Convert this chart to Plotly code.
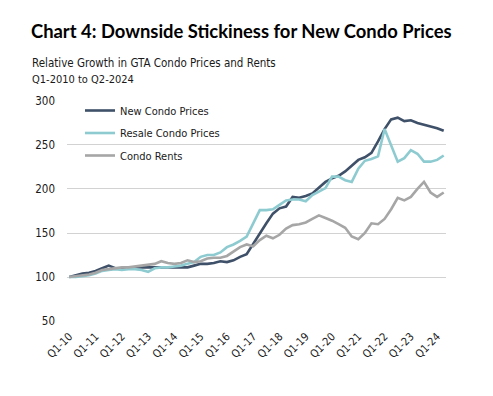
import plotly.graph_objects as go

quarters_idx = list(range(58))
tick_vals = list(range(0, 58, 4))
tick_text = ["Q1-10", "Q1-11", "Q1-12", "Q1-13", "Q1-14", "Q1-15", "Q1-16", "Q1-17",
             "Q1-18", "Q1-19", "Q1-20", "Q1-21", "Q1-22", "Q1-23", "Q1-24"]

new_condo = [100, 102, 104, 105, 107, 110, 113, 110, 110, 110,
             111, 111, 111, 111, 111, 111, 111, 111, 111, 113,
             115, 115, 116, 118, 117, 119, 123, 126, 138, 150,
             161, 172, 178, 180, 191, 190, 192, 195, 201, 208,
             212, 215, 220, 227, 233, 236, 241, 254, 268, 279,
             281, 277, 278, 275, 273, 271, 269, 266]

resale_condo = [100, 100, 101, 102, 104, 107, 108, 109, 108, 109,
                109, 108, 106, 110, 111, 111, 112, 113, 115, 117,
                123, 125, 125, 128, 134, 137, 141, 146, 161, 176,
                176, 177, 182, 187, 188, 188, 186, 193, 197, 201,
                214, 214, 210, 208, 223, 232, 234, 237, 268, 250,
                231, 235, 244, 240, 231, 231, 233, 238]

condo_rents = [100, 101, 102, 103, 105, 108, 109, 110, 111, 111,
               112, 113, 114, 115, 118, 116, 115, 116, 119, 117,
               118, 121, 122, 122, 124, 129, 134, 137, 135, 142,
               147, 144, 148, 155, 159, 160, 162, 166, 170, 167,
               164, 160, 156, 146, 143, 150, 161, 160, 166, 177,
               190, 187, 191, 200, 208, 196, 191, 196]

NARROW = "DejaVu Sans Condensed, Liberation Sans Narrow, sans-serif"

fig = go.Figure()
series = [
    ("New Condo Prices", new_condo, "#3f5069"),
    ("Resale Condo Prices", resale_condo, "#8dcbd1"),
    ("Condo Rents", condo_rents, "#a6a6a6"),
]
for i, (name, vals, col) in enumerate(series):
    fig.add_trace(go.Scatter(x=quarters_idx, y=vals, mode="lines", name=name,
                             legendgroup=str(i),
                             line=dict(color=col, width=2.6)))

L, R, T, B = 67, 47, 100, 74
W, H = 493, 396
pw = W - L - R
ph = H - T - B

def px_x(x):
    return (x - L) / pw

def px_y(y):
    return 1 - (y - T) / ph

fig.update_layout(
    width=W, height=H,
    margin=dict(l=L, r=R, t=T, b=B, autoexpand=False),
    paper_bgcolor="white", plot_bgcolor="white",
    font=dict(family=NARROW, size=11.5, color="#1a1a1a"),
    showlegend=True,
    legend=dict(x=px_x(80), y=px_y(96), xanchor="left", yanchor="top",
                bgcolor="rgba(0,0,0,0)", font=dict(family=NARROW, size=11),
                tracegroupgap=3.5),
    xaxis=dict(range=[-0.35, 57.35], tickmode="array", tickvals=tick_vals,
               ticktext=tick_text, tickangle=-45, showgrid=False,
               zeroline=False, showline=False, ticks="", automargin=False,
               ticklabelstandoff=5,
               tickfont=dict(family=NARROW, size=11)),
    yaxis=dict(range=[49, 301], tickmode="array", tickvals=[50, 100, 150, 200, 250, 300],
               showgrid=True, gridcolor="#d2d2d2", gridwidth=1,
               zeroline=False, showline=False, ticks="", automargin=False,
               ticklabelstandoff=11,
               tickfont=dict(family=NARROW, size=11.5)),
    annotations=[
        dict(text="<b>Chart 4: Downside Stickiness for New Condo Prices</b>",
             xref="paper", yref="paper", x=px_x(29), y=px_y(31),
             xanchor="left", yanchor="middle", showarrow=False,
             font=dict(family="Lato, Open Sans, sans-serif", size=18.4, color="#000000")),
        dict(text="Relative Growth in GTA Condo Prices and Rents",
             xref="paper", yref="paper", x=px_x(30), y=px_y(62.5),
             xanchor="left", yanchor="middle", showarrow=False,
             font=dict(family=NARROW, size=11.5, color="#1a1a1a")),
        dict(text="Q1-2010 to Q2-2024",
             xref="paper", yref="paper", x=px_x(30), y=px_y(79),
             xanchor="left", yanchor="middle", showarrow=False,
             font=dict(family=NARROW, size=11, color="#1a1a1a")),
    ],
)

fig.write_html("out.html", config={"displayModeBar": False},
               post_script="document.body.style.margin='0';")
